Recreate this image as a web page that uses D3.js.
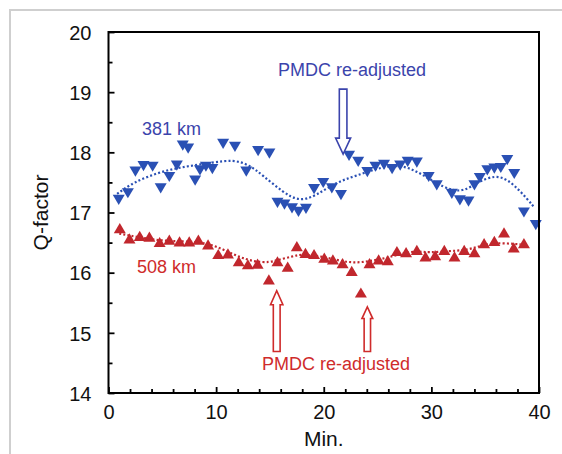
<!DOCTYPE html>
<html><head><meta charset="utf-8">
<script src="https://cdn.jsdelivr.net/npm/d3@7"></script>
<style>html,body{margin:0;padding:0;background:#fff;}svg{display:block;font-family:"Liberation Sans",Arial,sans-serif;}</style>
</head><body><svg id="c" width="562" height="454"></svg>
<script>
// Data
const blueX = [0.95,1.8,2.5,3.25,4.1,4.85,5.65,6.35,6.9,7.4,8.05,8.5,9.05,9.65,10.65,11.75,12.8,13.9,14.95,15.7,16.35,17.05,17.65,18.35,19.1,19.95,20.75,21.6,22.35,23.2,24.05,24.8,25.6,26.35,27.1,27.8,28.65,29.75,30.5,31.9,32.65,33.45,34,34.5,35.2,35.85,36.45,37.05,37.7,38.6,39.7];
const blueY = [17.21,17.32,17.68,17.77,17.76,17.40,17.59,17.78,18.11,18.06,17.53,17.70,17.76,17.72,18.14,18.09,17.68,18.02,17.98,17.16,17.13,17.07,17.01,17.06,17.39,17.49,17.40,17.29,17.94,17.84,17.67,17.76,17.79,17.72,17.78,17.84,17.83,17.59,17.45,17.31,17.20,17.18,17.45,17.57,17.70,17.73,17.74,17.87,17.64,17.00,16.79];
const redX = [1.05,1.95,2.9,3.8,4.75,5.65,6.6,7.5,8.35,9.25,10.2,11.1,12.1,12.95,13.85,14.9,15.7,16.65,17.5,18.3,19.1,20.05,20.85,21.75,22.6,23.45,24.25,25.1,25.95,26.8,27.65,28.65,29.45,30.35,31.2,32.15,33.05,34.0,34.9,35.85,36.75,37.65,38.6];
const redY = [16.74,16.57,16.61,16.60,16.51,16.55,16.52,16.52,16.55,16.47,16.31,16.32,16.19,16.14,16.15,15.89,16.19,16.10,16.44,16.33,16.31,16.25,16.22,16.16,16.03,15.67,16.16,16.22,16.21,16.36,16.34,16.38,16.27,16.29,16.38,16.27,16.38,16.34,16.49,16.53,16.67,16.42,16.49];
const blueFitX = [0.8,2.3,4.8,7.3,9.7,11.6,13.1,14.3,16.2,17.7,19.3,21.1,23.0,25.4,27.3,28.8,30.35,31.9,33.1,34.35,35.9,37.1,38.35,39.5];
const blueFitY = [17.31,17.50,17.68,17.77,17.83,17.88,17.79,17.62,17.34,17.18,17.28,17.50,17.61,17.76,17.79,17.67,17.50,17.36,17.36,17.51,17.62,17.55,17.34,17.10];
const redFitX = [1,3,5,7,9,10.5,12,13.5,15,15.7,17.1,18,19.5,21,22.3,23.5,24.8,26,27.2,28.8,29.7,31.6,33.1,34.3,35.6,36.8,38.3];
const redFitY = [16.65,16.58,16.53,16.52,16.5,16.4,16.27,16.18,16.17,16.21,16.27,16.31,16.28,16.22,16.17,16.17,16.21,16.25,16.32,16.36,16.33,16.36,16.37,16.43,16.49,16.49,16.47];
const xTicks = [0,10,20,30,40];
const yTicks = [14,15,16,17,18,19,20];
const seriesLabels = ["381 km","508 km"];
const noteText = "PMDC re-adjusted";
const xTitle = "Min.";
const yTitle = "Q-factor";

const svg = d3.select("#c");
const L = 108.5, R = 539, T = 32, B = 393;
const x = d3.scaleLinear().domain([0,40]).range([L,R]);
const y = d3.scaleLinear().domain([14,20]).range([B,T]);

const BLUE = "#2a50b4", BLUE_T = "#3b44ac", RED = "#c1272d", RED_T = "#cf2b2b";

// outer grey frame
svg.append("rect").attr("x",10).attr("y",10).attr("width",600).attr("height",500)
  .attr("fill","none").attr("stroke","#cfcfcf").attr("stroke-width",2);

// ticks
const gx = svg.append("g").attr("transform",`translate(0,${B})`);
gx.call(d3.axisBottom(x).tickValues(d3.range(0,41,2)).tickSize(-4).tickFormat(""));
gx.selectAll(".tick line").attr("stroke","#000").attr("stroke-width",1.8)
  .attr("y2", d => d%10===0 ? -6 : -4);
gx.select(".domain").remove();
const gxl = svg.append("g").attr("transform",`translate(0,${B})`);
gxl.call(d3.axisBottom(x).tickValues(xTicks).tickSize(0).tickPadding(0).tickFormat(d3.format("d")));
gxl.select(".domain").remove();
gxl.selectAll("text").attr("font-size",20).attr("fill","#111").attr("y",26).attr("dy",0)
  .attr("font-family","Liberation Sans, Arial, sans-serif");

const gy = svg.append("g").attr("transform",`translate(${L},0)`);
gy.call(d3.axisLeft(y).tickValues(d3.range(14,20.01,0.5)).tickSize(-4).tickFormat(""));
gy.selectAll(".tick line").attr("stroke","#000").attr("stroke-width",1.8)
  .attr("x2", d => Math.abs(d-Math.round(d))<1e-6 ? 6 : 4);
gy.select(".domain").remove();
const gyl = svg.append("g").attr("transform",`translate(${L},0)`);
gyl.call(d3.axisLeft(y).tickValues(yTicks).tickSize(0).tickPadding(17).tickFormat(d3.format("d")));
gyl.select(".domain").remove();
gyl.selectAll("text").attr("font-size",20).attr("fill","#111").attr("dy","0.36em")
  .attr("font-family","Liberation Sans, Arial, sans-serif");

// fit lines
const line = d3.line().x(d=>x(d[0])).y(d=>y(d[1])).curve(d3.curveBasis);
svg.append("path").attr("d", line(d3.zip(blueFitX, blueFitY)))
  .attr("fill","none").attr("stroke",BLUE).attr("stroke-width",2.2).attr("stroke-dasharray","2,2.2");
svg.append("path").attr("d", line(d3.zip(redFitX, redFitY)))
  .attr("fill","none").attr("stroke",RED).attr("stroke-width",2.2).attr("stroke-dasharray","2,2.2");

// markers
const hw = 6.0, hh = 5.1;
const down = "M"+(-hw)+","+(-hh)+"L"+hw+","+(-hh)+"L0,"+hh+"Z";
const up = "M"+(-hw)+","+hh+"L"+hw+","+hh+"L0,"+(-hh)+"Z";
svg.append("g").selectAll("path").data(d3.zip(redX, redY)).join("path")
  .attr("d", up).attr("transform", d=>`translate(${x(d[0])},${y(d[1])})`).attr("fill",RED);
svg.append("g").selectAll("path").data(d3.zip(blueX, blueY)).join("path")
  .attr("d", down).attr("transform", d=>`translate(${x(d[0])},${y(d[1])})`).attr("fill",BLUE);

// plot box
svg.append("rect").attr("x",L).attr("y",T).attr("width",R-L).attr("height",B-T)
  .attr("fill","none").attr("stroke","#000").attr("stroke-width",2);

// hollow block arrows
function arrow(cx, yTip, yTail, shaftHalf, headHalf, headLen, dir, color){
  // dir = +1 pointing down, -1 pointing up
  const yh = yTip - dir*headLen;
  const p = [[cx-shaftHalf,yTail],[cx+shaftHalf,yTail],[cx+shaftHalf,yh],[cx+headHalf,yh],[cx,yTip],[cx-headHalf,yh],[cx-shaftHalf,yh]];
  svg.append("path").attr("d","M"+p.map(q=>q.join(",")).join("L")+"Z")
    .attr("fill","#fff").attr("stroke",color).attr("stroke-width",1.6).attr("stroke-linejoin","miter");
}
arrow(x(21.8), y(17.97), y(19.05), 3.8, 7.5, 16, 1, BLUE_T);
arrow(x(15.63), y(15.70), y(14.69), 3.4, 6.2, 14, -1, RED_T);
arrow(x(24.05), y(15.43), y(14.69), 3.2, 5.4, 11.6, -1, RED_T);

// annotation texts
const ff = "Liberation Sans, Arial, sans-serif";
svg.append("text").attr("x",352).attr("y",76).attr("text-anchor","middle").attr("font-size",18)
  .attr("font-family",ff).attr("fill",BLUE_T).text(noteText);
svg.append("text").attr("x",336).attr("y",370).attr("text-anchor","middle").attr("font-size",18)
  .attr("font-family",ff).attr("fill",RED_T).text(noteText);
svg.append("text").attr("x",142).attr("y",135).attr("font-size",18)
  .attr("font-family",ff).attr("fill",BLUE_T).text(seriesLabels[0]);
svg.append("text").attr("x",137).attr("y",273).attr("font-size",18)
  .attr("font-family",ff).attr("fill",RED_T).text(seriesLabels[1]);

// axis titles
svg.append("text").attr("x",(L+R)/2).attr("y",446).attr("text-anchor","middle").attr("font-size",21)
  .attr("font-family",ff).attr("fill","#111").text(xTitle);
svg.append("text").attr("transform",`translate(48,${(T+B)/2}) rotate(-90)`).attr("text-anchor","middle")
  .attr("font-size",21).attr("font-family",ff).attr("fill","#111").text(yTitle);
</script></body></html>
